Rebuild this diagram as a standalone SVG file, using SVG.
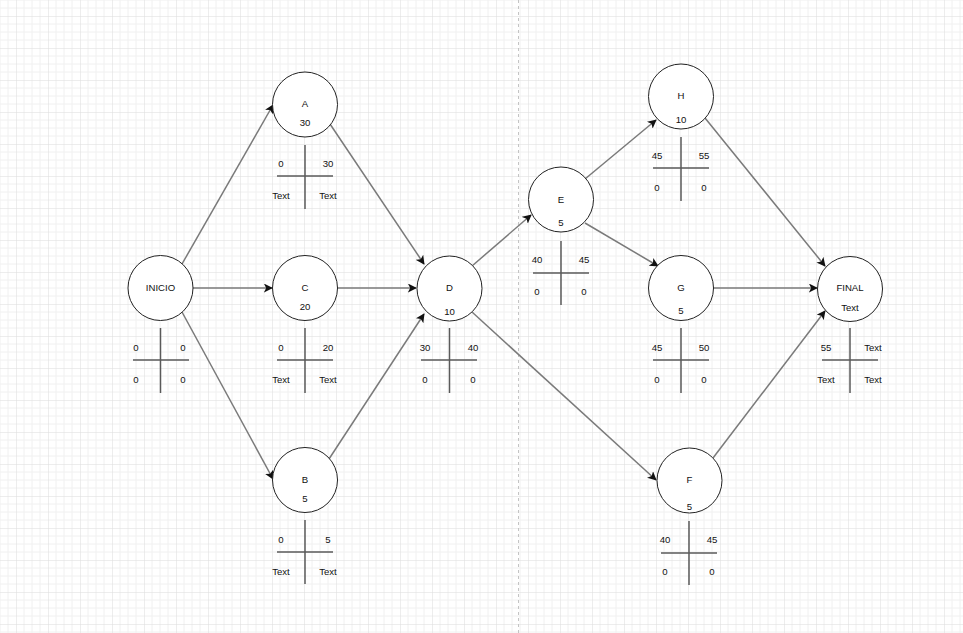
<svg xmlns="http://www.w3.org/2000/svg" width="963" height="633" viewBox="0 0 963 633">
  <style>
    .node circle { fill: #ffffff; stroke: #222222; stroke-width: 1; }
    text { font-family: "Liberation Sans", Arial, sans-serif; font-size: 9.6px; fill: #111111; text-anchor: middle; dominant-baseline: central; transform: translateY(-0.8px); }
    .tbl line { stroke: #5a5a5a; stroke-width: 1.5; }
    .edges line { stroke: #7a7a7a; stroke-width: 1.5; marker-end: url(#arrow); }
  </style>
  <defs>
    <pattern id="grid" x="16" y="16" width="32" height="32" patternUnits="userSpaceOnUse">
      <path d="M8 0V32M16 0V32M24 0V32M0 8H32M0 16H32M0 24H32" fill="none" stroke="#f0f0f0" stroke-width="1"/>
      <path d="M0 0V32M0 0H32" fill="none" stroke="#dcdcdc" stroke-width="1"/>
    </pattern>
    <marker id="arrow" viewBox="0 0 10 10" refX="9" refY="5" markerWidth="6" markerHeight="6" markerUnits="strokeWidth" orient="auto">
      <path d="M0 0L10 5L0 10L2.5 5Z" fill="#111111"/>
    </marker>
  </defs>

  <!-- background and page grid -->
  <rect width="963" height="633" fill="#ffffff"/>
  <rect width="963" height="633" fill="url(#grid)"/>
  <line x1="518.5" y1="0" x2="518.5" y2="633" stroke="#c4c4c4" stroke-width="1" stroke-dasharray="3 3"/>

  <!-- connectors -->
  <g id="edges" class="edges">
    <line x1="182" y1="264" x2="273" y2="105"/>
    <line x1="192" y1="288" x2="272" y2="288"/>
    <line x1="182" y1="312" x2="273" y2="479"/>
    <line x1="330" y1="124" x2="424" y2="264"/>
    <line x1="337" y1="288" x2="416" y2="288"/>
    <line x1="329" y1="459" x2="424" y2="314"/>
    <line x1="472" y1="266" x2="531" y2="215"/>
    <line x1="472" y1="312" x2="656" y2="480"/>
    <line x1="585" y1="179" x2="656" y2="120"/>
    <line x1="585" y1="223" x2="658" y2="266"/>
    <line x1="705" y1="118" x2="825" y2="266"/>
    <line x1="713" y1="288" x2="817" y2="288"/>
    <line x1="713" y1="458" x2="825" y2="311"/>
  </g>

  <!-- INICIO -->
  <g id="node-inicio" class="node">
    <circle cx="160.5" cy="288" r="32.5"/>
    <text x="160.5" y="288">INICIO</text>
    <g class="tbl"><line x1="160.5" y1="328" x2="160.5" y2="393"/><line x1="133" y1="360" x2="189" y2="360"/></g>
    <text x="136" y="348">0</text><text x="183" y="348">0</text>
    <text x="136" y="380">0</text><text x="183" y="380">0</text>
  </g>

  <!-- A -->
  <g id="node-a" class="node">
    <circle cx="305" cy="104.5" r="32.5"/>
    <text x="305" y="104">A</text>
    <text x="305" y="123">30</text>
    <g class="tbl"><line x1="305" y1="145" x2="305" y2="209"/><line x1="277" y1="176" x2="333" y2="176"/></g>
    <text x="281" y="164">0</text><text x="328" y="164">30</text>
    <text x="281" y="196">Text</text><text x="328" y="196">Text</text>
  </g>

  <!-- C -->
  <g id="node-c" class="node">
    <circle cx="305" cy="288" r="32.5"/>
    <text x="305" y="288">C</text>
    <text x="305" y="307">20</text>
    <g class="tbl"><line x1="305" y1="328" x2="305" y2="393"/><line x1="277" y1="360" x2="333" y2="360"/></g>
    <text x="281" y="348">0</text><text x="328" y="348">20</text>
    <text x="281" y="380">Text</text><text x="328" y="380">Text</text>
  </g>

  <!-- B -->
  <g id="node-b" class="node">
    <circle cx="305" cy="480" r="32.5"/>
    <text x="305" y="480">B</text>
    <text x="305" y="499">5</text>
    <g class="tbl"><line x1="305" y1="520" x2="305" y2="584"/><line x1="277" y1="552" x2="333" y2="552"/></g>
    <text x="281" y="540">0</text><text x="328" y="540">5</text>
    <text x="281" y="572">Text</text><text x="328" y="572">Text</text>
  </g>

  <!-- D -->
  <g id="node-d" class="node">
    <circle cx="449.5" cy="288.5" r="32.5"/>
    <text x="449.5" y="288">D</text>
    <text x="449.5" y="312">10</text>
    <g class="tbl"><line x1="449.5" y1="328" x2="449.5" y2="393"/><line x1="421" y1="360" x2="477" y2="360"/></g>
    <text x="425" y="348">30</text><text x="473" y="348">40</text>
    <text x="425" y="380">0</text><text x="473" y="380">0</text>
  </g>

  <!-- E -->
  <g id="node-e" class="node">
    <circle cx="561" cy="199.5" r="32.5"/>
    <text x="561" y="200">E</text>
    <text x="561" y="223">5</text>
    <g class="tbl"><line x1="561" y1="241" x2="561" y2="305"/><line x1="533" y1="273" x2="589" y2="273"/></g>
    <text x="537" y="260">40</text><text x="584" y="260">45</text>
    <text x="537" y="292">0</text><text x="584" y="292">0</text>
  </g>

  <!-- H -->
  <g id="node-h" class="node">
    <circle cx="681" cy="96.5" r="32.5"/>
    <text x="681" y="96">H</text>
    <text x="681" y="120">10</text>
    <g class="tbl"><line x1="681" y1="137" x2="681" y2="201"/><line x1="653" y1="168" x2="709" y2="168"/></g>
    <text x="657" y="156">45</text><text x="704" y="156">55</text>
    <text x="657" y="188">0</text><text x="704" y="188">0</text>
  </g>

  <!-- G -->
  <g id="node-g" class="node">
    <circle cx="681" cy="288" r="32.5"/>
    <text x="681" y="288">G</text>
    <text x="681" y="311">5</text>
    <g class="tbl"><line x1="681" y1="328" x2="681" y2="393"/><line x1="653" y1="360" x2="709" y2="360"/></g>
    <text x="657" y="348">45</text><text x="704" y="348">50</text>
    <text x="657" y="380">0</text><text x="704" y="380">0</text>
  </g>

  <!-- F -->
  <g id="node-f" class="node">
    <circle cx="689.5" cy="480.5" r="32.5"/>
    <text x="689.5" y="480">F</text>
    <text x="689.5" y="507">5</text>
    <g class="tbl"><line x1="689" y1="521" x2="689" y2="585"/><line x1="661" y1="553" x2="717" y2="553"/></g>
    <text x="665" y="540">40</text><text x="712" y="540">45</text>
    <text x="665" y="572">0</text><text x="712" y="572">0</text>
  </g>

  <!-- FINAL -->
  <g id="node-final" class="node">
    <circle cx="850" cy="289" r="32.5"/>
    <text x="850" y="288">FINAL</text>
    <text x="850" y="308">Text</text>
    <g class="tbl"><line x1="850" y1="328" x2="850" y2="393"/><line x1="822" y1="360" x2="878" y2="360"/></g>
    <text x="826" y="348">55</text><text x="873" y="348">Text</text>
    <text x="826" y="380">Text</text><text x="873" y="380">Text</text>
  </g>
</svg>
